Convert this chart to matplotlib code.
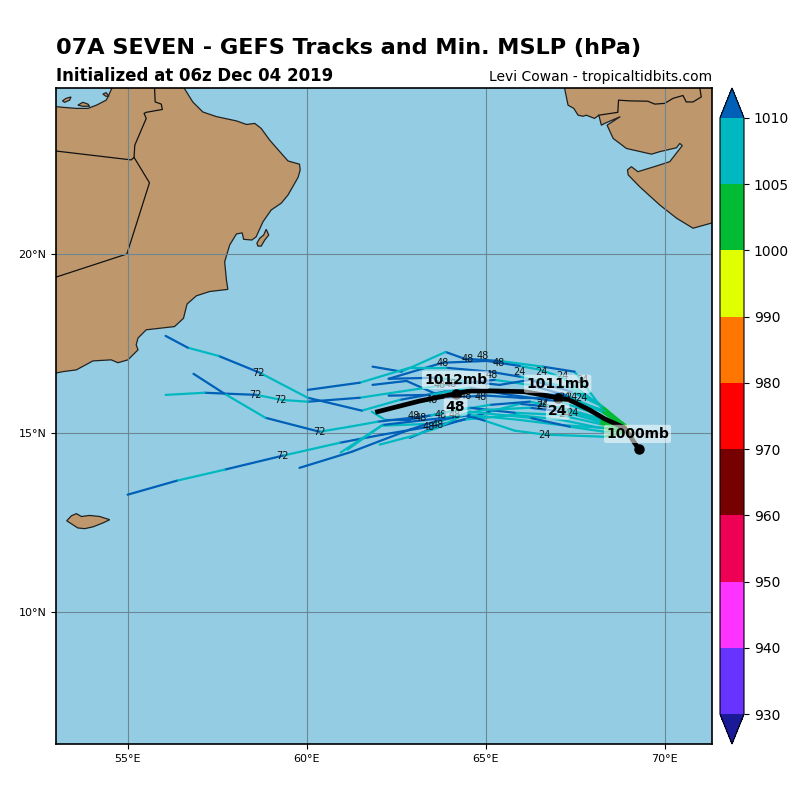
#!/usr/bin/env python3
# GEFS ensemble tracks map for 07A SEVEN

import matplotlib
matplotlib.use("Agg")
import matplotlib.pyplot as plt
from matplotlib.colors import ListedColormap, BoundaryNorm
from matplotlib.cm import ScalarMappable
from matplotlib.patches import Polygon

# --- land outlines (lon, lat)
mainland_west = [
    (52.9, 16.65), (52.9, 24.13), (53.19, 24.10), (53.57, 24.07), (53.89, 24.07), (54.13, 24.16),
    (54.40, 24.30), (54.45, 24.39), (54.59, 24.7), (56.54, 24.7), (56.82, 24.25), (57.10, 23.97),
    (57.48, 23.84), (58.04, 23.72), (58.32, 23.62), (58.55, 23.65), (58.73, 23.51), (58.97, 23.18),
    (59.25, 22.86), (59.48, 22.60), (59.80, 22.51), (59.82, 22.35), (59.76, 22.14), (59.48, 21.65),
    (59.29, 21.42), (59.01, 21.23), (58.78, 20.90), (58.59, 20.48), (58.47, 20.39), (58.24, 20.41),
    (58.20, 20.59), (58.04, 20.56), (57.85, 20.25), (57.71, 19.78), (57.76, 19.27), (57.80, 19.01),
    (57.29, 18.95), (56.92, 18.83), (56.66, 18.60), (56.56, 18.20), (56.31, 17.97), (55.52, 17.88),
    (55.29, 17.65), (55.24, 17.46), (55.29, 17.32), (55.01, 17.04), (54.73, 16.96), (54.54, 17.04),
    (54.03, 17.01), (53.57, 16.76), (53.19, 16.71),
]
mainland_east = [
    (67.19, 24.7), (67.30, 24.16), (67.46, 24.07), (67.58, 23.88), (67.72, 23.85), (67.81, 23.88),
    (68.04, 23.79), (68.16, 23.88), (68.23, 23.60), (68.32, 23.65), (68.76, 23.84), (68.39, 23.60),
    (68.56, 23.23), (68.93, 22.95), (69.63, 22.79), (69.86, 22.86), (70.33, 22.97), (70.42, 23.09),
    (70.49, 23.03), (70.14, 22.58), (69.77, 22.46), (69.25, 22.30), (69.07, 22.44), (68.96, 22.35),
    (68.98, 22.21), (69.30, 21.88), (69.86, 21.37), (70.33, 21.0), (70.79, 20.72), (71.4, 20.89),
    (71.4, 24.7),
]
islands = [
    [(53.18, 24.28), (53.28, 24.35), (53.42, 24.39), (53.38, 24.30), (53.24, 24.24)],
    [(53.61, 24.16), (53.75, 24.24), (53.89, 24.19), (53.94, 24.13), (53.75, 24.13)],
    [(54.31, 24.47), (54.40, 24.51), (54.48, 24.41), (54.39, 24.41)],
    [(58.61, 20.30), (58.69, 20.44), (58.80, 20.53), (58.87, 20.69), (58.94, 20.53), (58.83, 20.39),
     (58.73, 20.22), (58.64, 20.22)],
    [(53.30, 12.54), (53.43, 12.68), (53.57, 12.74), (53.71, 12.66), (53.94, 12.69), (54.22, 12.66),
     (54.50, 12.57), (54.31, 12.48), (54.03, 12.37), (53.80, 12.32), (53.61, 12.34), (53.47, 12.43)],
]
borders = [
    [(55.75, 24.7), (55.77, 24.25), (55.94, 24.19), (55.97, 24.04), (55.52, 23.96), (55.46, 23.93),
     (55.52, 23.79), (55.20, 23.04), (55.18, 22.70), (55.61, 21.99), (54.98, 20.0), (52.9, 19.32)],
    [(52.9, 22.89), (55.10, 22.63), (55.18, 22.70)],
    [(68.16, 23.88), (68.69, 23.96), (68.71, 24.30), (69.02, 24.28), (69.53, 24.27), (69.72, 24.19),
     (70.00, 24.21), (70.23, 24.35), (70.51, 24.43), (70.60, 24.25), (70.79, 24.25), (71.02, 24.39),
     (70.97, 24.7)],
]

# --- ensemble members: lon, lat, pressure of each segment
a_lon = [69.27, 68.91, 68.32, 67.48, 66.59, 65.39, 64.41, 63.88, 62.65, 61.84]
a_lat = [14.55, 15.22, 15.59, 16.71, 16.85, 17.01, 17.07, 17.26, 16.71, 16.85]
a_mb = [998, 1003, 1007, 1011, 1007, 1011, 1011, 1007, 1011]

b_lon = [69.27, 68.85, 68.18, 67.15, 66.53, 65.95, 65.03, 63.80, 62.29]
b_lat = [14.55, 15.25, 15.78, 16.54, 16.76, 16.87, 17.01, 16.96, 16.51]
b_mb = [998, 1003, 1007, 1007, 1007, 1011, 1011, 1011]

c_lon = [69.27, 68.88, 68.13, 67.35, 65.95, 65.11, 63.88, 62.88, 61.48, 60.03]
c_lat = [14.55, 15.20, 15.84, 16.26, 16.57, 16.71, 16.82, 16.82, 16.40, 16.20]
c_mb = [998, 1003, 1007, 1007, 1011, 1011, 1007, 1007, 1011]

d_lon = [69.27, 68.91, 68.18, 67.20, 66.23, 65.25, 63.88, 62.60, 61.48, 60.03, 59.30, 58.60, 57.15, 56.06]
d_lat = [14.55, 15.17, 15.64, 16.06, 16.34, 16.48, 16.34, 16.15, 15.98, 15.87, 15.92, 16.06, 16.12, 16.06]
d_mb = [998, 1003, 1007, 1011, 1007, 1011, 1007, 1007, 1011, 1007, 1007, 1011, 1007]

e_lon = [69.27, 68.88, 68.24, 67.35, 66.23, 65.11, 63.85, 62.60, 61.54, 60.03, 58.69, 57.54, 56.68, 56.06]
e_lat = [14.55, 15.17, 15.59, 15.98, 16.15, 16.20, 16.15, 15.92, 15.62, 15.98, 16.68, 17.15, 17.38, 17.71]
e_mb = [998, 1003, 1007, 1011, 1011, 1011, 1011, 1007, 1011, 1007, 1011, 1007, 1011]

f_lon = [69.27, 68.88, 68.32, 67.35, 66.23, 65.11, 63.99, 62.88, 62.18, 61.82]
f_lat = [14.55, 15.17, 15.37, 15.64, 15.87, 15.78, 15.59, 15.37, 15.37, 15.59]
f_mb = [998, 1003, 1007, 1007, 1011, 1007, 1011, 1011, 1007]

g_lon = [69.27, 68.88, 68.18, 67.07, 65.81, 64.55, 63.43, 61.98, 61.20, 60.36, 58.85, 57.71, 56.84]
g_lat = [14.55, 15.14, 15.25, 15.50, 15.56, 15.70, 15.48, 15.31, 15.17, 15.03, 15.42, 16.09, 16.65]
g_mb = [998, 1003, 1007, 1007, 1011, 1007, 1011, 1007, 1007, 1011, 1007, 1011]

h_lon = [69.27, 68.88, 68.18, 67.07, 65.81, 64.41, 63.43, 62.12, 60.92, 59.33, 57.71, 56.37, 55.0]
h_lat = [14.55, 15.09, 15.14, 15.37, 15.50, 15.37, 15.17, 14.95, 14.72, 14.36, 13.97, 13.66, 13.27]
h_mb = [998, 1003, 1007, 1007, 1007, 1011, 1011, 1011, 1007, 1011, 1007, 1011]

i_lon = [69.27, 68.96, 68.32, 66.65, 65.81, 64.97, 64.41, 63.43, 62.09, 60.95]
i_lat = [14.55, 15.03, 14.89, 14.95, 15.06, 15.34, 15.50, 15.25, 15.20, 14.45]
i_mb = [998, 1003, 1007, 1007, 1007, 1011, 1007, 1007, 1007]

j_lon = [69.27, 68.94, 68.18, 67.20, 66.23, 64.97, 63.85, 62.12, 61.14]
j_lat = [14.55, 15.06, 15.31, 15.59, 15.70, 15.64, 15.42, 15.22, 14.53]
j_mb = [998, 1003, 1007, 1011, 1007, 1007, 1011, 1007]

k_lon = [69.27, 68.91, 68.27, 67.07, 65.95, 64.55, 63.71, 62.88, 61.26, 59.80]
k_lat = [14.55, 15.09, 15.14, 15.22, 15.36, 15.50, 15.36, 15.09, 14.47, 14.02]
k_mb = [998, 1003, 1007, 1007, 1007, 1011, 1011, 1011, 1011]

l_lon = [69.27, 68.91, 68.32, 67.35, 66.23, 64.55, 63.66, 62.88, 62.04]
l_lat = [14.55, 15.06, 15.03, 15.17, 15.42, 15.59, 15.14, 14.89, 14.67]
l_mb = [998, 1003, 1007, 1011, 1007, 1007, 1007, 1007]

m_lon = [69.27, 68.88, 68.18, 67.07, 65.67, 64.55, 63.43, 62.29]
m_lat = [14.55, 15.14, 15.50, 15.87, 16.06, 16.26, 16.06, 16.04]
m_mb = [998, 1003, 1007, 1011, 1011, 1007, 1011]

n_lon = [69.27, 68.88, 68.27, 67.40, 66.23, 65.39, 64.55, 63.58, 62.29]
n_lat = [14.55, 15.22, 15.73, 16.15, 16.48, 16.34, 16.43, 16.54, 16.51]
n_mb = [998, 1003, 1007, 1011, 1011, 1011, 1007, 1011]

o_lon = [69.27, 68.88, 68.27, 67.20, 65.95, 65.03, 63.85, 62.79, 61.84]
o_lat = [14.55, 15.17, 15.64, 15.98, 15.98, 16.04, 15.98, 16.45, 16.34]
o_mb = [998, 1003, 1007, 1011, 1011, 1011, 1011, 1011]

p_lon = [69.27, 68.88, 68.18, 67.07, 65.95, 65.11, 64.55, 63.43, 62.88]
p_lat = [14.55, 15.14, 15.36, 15.70, 15.81, 15.59, 15.42, 15.09, 14.86]
p_mb = [998, 1003, 1007, 1011, 1007, 1011, 1011, 1011]

members = [
    (o_lon, o_lat, o_mb), (p_lon, p_lat, p_mb),
    (a_lon, a_lat, a_mb), (b_lon, b_lat, b_mb), (c_lon, c_lat, c_mb), (d_lon, d_lat, d_mb),
    (e_lon, e_lat, e_mb), (f_lon, f_lat, f_mb), (g_lon, g_lat, g_mb), (h_lon, h_lat, h_mb),
    (i_lon, i_lat, i_mb), (j_lon, j_lat, j_mb), (k_lon, k_lat, k_mb), (l_lon, l_lat, l_mb),
    (m_lon, m_lat, m_mb), (n_lon, n_lat, n_mb),
]

# forecast hour labels on the members
h72_lon = [58.66, 58.57, 59.27, 60.36, 59.33]
h72_lat = [16.68, 16.06, 15.92, 15.03, 14.36]
h48_lon = [63.80, 64.50, 64.92, 65.36, 65.17, 64.86, 63.49, 64.44, 62.99, 63.18, 63.74, 64.13, 63.41, 63.66, 63.71, 64.02]
h48_lat = [16.96, 17.07, 17.15, 16.96, 16.62, 16.00, 15.92, 16.04, 15.48, 15.42, 15.50, 15.50, 15.17, 15.22, 16.34, 16.37]
h24_lon = [65.95, 66.56, 67.15, 67.71, 66.59, 66.65, 67.20, 67.40, 67.68, 67.43, 67.20, 66.59]
h24_lat = [16.70, 16.70, 16.59, 16.48, 15.81, 14.95, 16.01, 16.01, 15.98, 15.56, 15.53, 15.76]

# ensemble mean
mean_lon = [69.27, 68.88, 68.32, 67.9, 67.40, 67.01, 66.09, 65.25, 64.55, 64.16, 63.16, 61.98]
mean_lat = [14.55, 15.14, 15.39, 15.64, 15.89, 15.98, 16.15, 16.17, 16.17, 16.09, 15.89, 15.59]
dot_lon = [69.27, 67.01, 64.16]
dot_lat = [14.55, 15.98, 16.09]
note_text = ["1000mb", "1011mb", "24", "1012mb", "48"]
note_lon = [69.24, 67.01, 67.01, 64.16, 64.16]
note_lat = [14.97, 16.37, 15.62, 16.48, 15.73]

# pressure scale
levels = [930, 940, 950, 960, 970, 980, 990, 1000, 1005, 1010]
bar_colors = ["#6633ff", "#ff33ff", "#ee0055", "#770000", "#ff0000", "#ff7700",
              "#e0ff00", "#00bb33", "#00b8c0"]
under_color = "#1a1a99"
over_color = "#0060b8"

OCEAN = "#94cde3"
LAND = "#be986c"
GRID = "#6e8693"

cmap = ListedColormap(bar_colors)
cmap.set_under(under_color)
cmap.set_over(over_color)
norm = BoundaryNorm(levels, cmap.N)


def draw_map(ax):
    ax.set_facecolor(OCEAN)
    for poly in [mainland_west, mainland_east] + islands:
        ax.add_patch(Polygon(poly, closed=True, facecolor=LAND, edgecolor="#222222",
                             linewidth=0.9, zorder=1))
    for line in borders:
        ax.plot([p[0] for p in line], [p[1] for p in line], color="#111111", lw=0.9, zorder=1.5)


fig = plt.figure(figsize=(8, 8), dpi=100)
ax = fig.add_axes([56 / 800, 56 / 800, 656 / 800, 656 / 800])
draw_map(ax)

ax.set_xlim(53.0, 71.32)
ax.set_ylim(6.3, 24.64)
ax.set_xticks([55, 60, 65, 70])
ax.set_xticklabels(["55°E", "60°E", "65°E", "70°E"], fontsize=8)
ax.set_yticks([10, 15, 20])
ax.set_yticklabels(["10°N", "15°N", "20°N"], fontsize=8)
ax.grid(True, color=GRID, linewidth=0.8, zorder=2)
ax.set_axisbelow(False)
for s in ax.spines.values():
    s.set_linewidth(1.2)
    s.set_zorder(20)

for lon, lat, mb in members:
    for i, p in enumerate(mb):
        ax.plot(lon[i:i + 2], lat[i:i + 2], color=cmap(norm(p)), lw=1.6, zorder=3,
                solid_capstyle="round")

for lons, lats, lab in [(h72_lon, h72_lat, "72"), (h48_lon, h48_lat, "48"), (h24_lon, h24_lat, "24")]:
    for x, y in zip(lons, lats):
        ax.text(x, y, lab, fontsize=7, ha="center", va="center", color="#111111", zorder=4)

ax.plot(mean_lon, mean_lat, color="black", lw=3.4, zorder=5)
ax.plot(dot_lon, dot_lat, "o", color="black", ms=6.5, zorder=6)

for t, x, y in zip(note_text, note_lon, note_lat):
    ax.text(x, y, t, fontsize=10, fontweight="bold", ha="center", va="center", color="black", zorder=7,
            bbox=dict(boxstyle="round,pad=0.15", facecolor="white", edgecolor="none", alpha=0.55))

ax.set_title("Initialized at 06z Dec 04 2019", loc="left", fontsize=12, fontweight="bold", pad=5)
ax.set_title("Levi Cowan - tropicaltidbits.com", loc="right", fontsize=10, pad=5)
fig.text(56 / 800, 1 - 54 / 800, "07A SEVEN - GEFS Tracks and Min. MSLP (hPa)",
         fontsize=16.1, fontweight="bold", ha="left", va="baseline")

cax = fig.add_axes([720 / 800, 56 / 800, 24 / 800, 656 / 800])
cbar = fig.colorbar(ScalarMappable(norm=norm, cmap=cmap), cax=cax, extend="both",
                    spacing="uniform", ticks=levels)
cbar.ax.tick_params(labelsize=10)

fig.savefig("out.png", dpi=100)
plt.close(fig)
